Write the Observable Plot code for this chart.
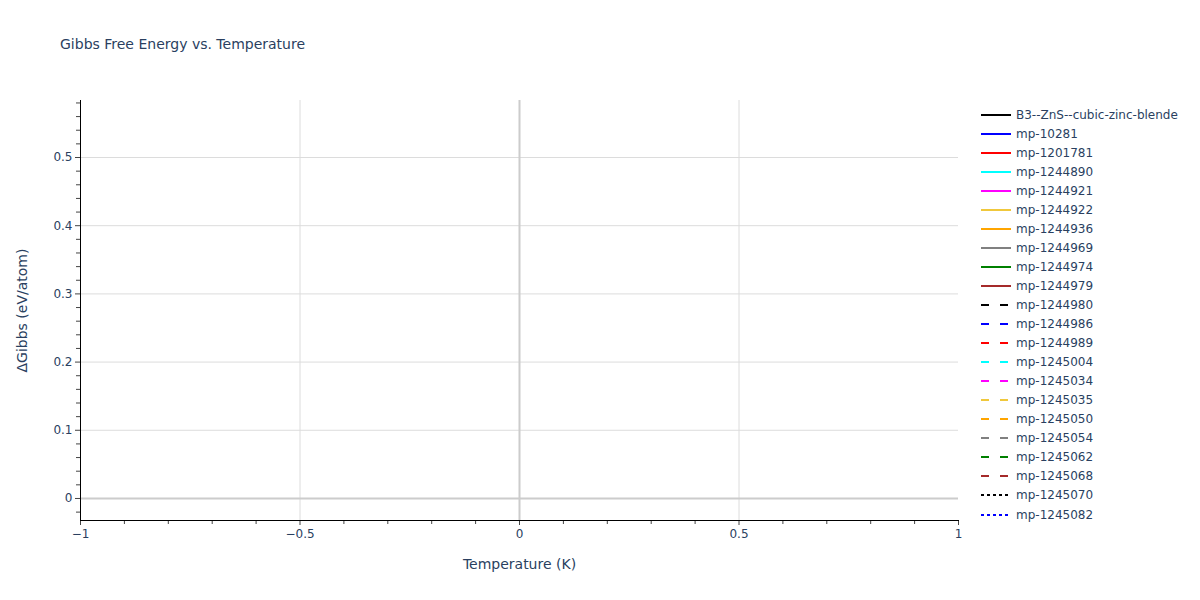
<!DOCTYPE html>
<html>
<head>
<meta charset="utf-8">
<script src="https://cdn.jsdelivr.net/npm/d3@7"></script>
<script src="https://cdn.jsdelivr.net/npm/@observablehq/plot@0.6"></script>
<style>
  html, body { margin: 0; padding: 0; background: #fff; }
  #wrap { position: relative; width: 1200px; height: 600px; font-family: "DejaVu Sans", "Open Sans", sans-serif; }
  #title { position: absolute; left: 60px; top: 36px; font-size: 14px; color: #2a3f5f; white-space: nowrap; }
  #legend { position: absolute; left: 980px; top: 105px; }
  .item { height: 19.05px; display: flex; align-items: center; font-size: 12px; color: #2a3f5f; white-space: nowrap; }
  .item svg { margin-right: 4px; }
</style>
</head>
<body>
<div id="wrap">
  <div id="title"></div>
  <div id="chart"></div>
  <div id="legend"></div>
</div>
<script>
const titleText = "Gibbs Free Energy vs. Temperature";
const xLabel = "Temperature (K)";
const yLabel = "ΔGibbs (eV/atom)";

const seriesNames = [
  "B3--ZnS--cubic-zinc-blende", "mp-10281", "mp-1201781", "mp-1244890", "mp-1244921",
  "mp-1244922", "mp-1244936", "mp-1244969", "mp-1244974", "mp-1244979",
  "mp-1244980", "mp-1244986", "mp-1244989", "mp-1245004", "mp-1245034",
  "mp-1245035", "mp-1245050", "mp-1245054", "mp-1245062", "mp-1245068",
  "mp-1245070", "mp-1245082"
];
const seriesColors = [
  "#000000", "#0000ff", "#ff0000", "#00ffff", "#ff00ff",
  "#f0c83c", "#ffa500", "#808080", "#008000", "#a52a2a",
  "#000000", "#0000ff", "#ff0000", "#00ffff", "#ff00ff",
  "#f0c83c", "#ffa500", "#808080", "#008000", "#a52a2a",
  "#000000", "#0000ff"
];
const seriesDash = [
  "solid","solid","solid","solid","solid","solid","solid","solid","solid","solid",
  "dash","dash","dash","dash","dash","dash","dash","dash","dash","dash",
  "dot","dot"
];
// No data points are visible in the reference: every series is empty.
const seriesTemps = seriesNames.map(() => []);
const seriesGibbs = seriesNames.map(() => []);

const xDomain = [-1, 1];
const yDomain = [-0.0323, 0.5836];
const xTicks = [-1, -0.5, 0, 0.5, 1];
const xMinorTicks = [-0.9, -0.8, -0.7, -0.6, -0.4, -0.3, -0.2, -0.1, 0.1, 0.2, 0.3, 0.4, 0.6, 0.7, 0.8, 0.9];
const yTicks = [0, 0.1, 0.2, 0.3, 0.4, 0.5];
const yMinorTicks = d3.range(-0.02, 0.5801, 0.02).map(v => +v.toFixed(2)).filter(v => !yTicks.includes(v));

const dashArray = {solid: null, dash: "9,9", dot: "3,3"};

const rows = [];
seriesNames.forEach((name, i) => {
  seriesTemps[i].forEach((t, j) => rows.push({name, t, g: seriesGibbs[i][j], i}));
});

const fmt = v => v === 0 ? "0" : d3.format("")(v).replace("-", "−");

const lineMarks = seriesNames.map((name, i) =>
  Plot.line(rows.filter(r => r.i === i), {
    x: "t", y: "g", stroke: seriesColors[i], strokeWidth: 2,
    strokeDasharray: dashArray[seriesDash[i]]
  })
);

const chart = Plot.plot({
  width: 1200,
  height: 600,
  marginLeft: 80,
  marginRight: 242,
  marginTop: 100,
  marginBottom: 80,
  style: {fontFamily: '"DejaVu Sans", "Open Sans", sans-serif', fontSize: "12px", color: "#2a3f5f", background: "#fff"},
  x: {domain: xDomain},
  y: {domain: yDomain},
  marks: [
    Plot.ruleX(xTicks.filter(v => v !== 0 && Math.abs(v) !== 1), {stroke: "#dcdcdc", strokeWidth: 1}),
    Plot.ruleY(yTicks.filter(v => v !== 0), {stroke: "#dcdcdc", strokeWidth: 1}),
    Plot.ruleX([0], {stroke: "#cccccc", strokeWidth: 2}),
    Plot.ruleY([0], {stroke: "#cccccc", strokeWidth: 2}),
    ...lineMarks,
    Plot.axisX(xMinorTicks, {tickSize: 4, tickFormat: () => "", stroke: "#444", label: null}),
    Plot.axisX(xTicks, {tickSize: 5, tickFormat: fmt, stroke: "#444", tickPadding: 4, fontSize: 12, fill: "#2a3f5f", label: null}),
    Plot.axisY(yMinorTicks, {tickSize: 4, tickFormat: () => "", stroke: "#444", label: null}),
    Plot.axisY(yTicks, {tickSize: 5, tickFormat: fmt, stroke: "#444", tickPadding: 3, fontSize: 12, fill: "#2a3f5f", label: null}),
    Plot.frame({anchor: "left", stroke: "#000", strokeWidth: 1}),
    Plot.frame({anchor: "bottom", stroke: "#000", strokeWidth: 1}),
    Plot.text([xLabel], {frameAnchor: "bottom", dy: 48, fontSize: 14, fill: "#2a3f5f"}),
    Plot.text([yLabel], {frameAnchor: "left", textAnchor: "middle", dx: -58, rotate: -90, fontSize: 14, fill: "#2a3f5f"})
  ]
});
document.getElementById("chart").appendChild(chart);
document.getElementById("title").textContent = titleText;

const legend = d3.select("#legend");
seriesNames.forEach((name, i) => {
  const item = legend.append("div").attr("class", "item");
  const svg = item.append("svg").attr("width", 32).attr("height", 10);
  svg.append("line").attr("x1", 1).attr("x2", 31).attr("y1", 5).attr("y2", 5)
    .attr("stroke", seriesColors[i]).attr("stroke-width", 2)
    .attr("stroke-dasharray", seriesDash[i] === "dash" ? "8,11" : seriesDash[i] === "dot" ? "3,3" : null);
  item.append("span").text(name);
});
</script>
</body>
</html>
